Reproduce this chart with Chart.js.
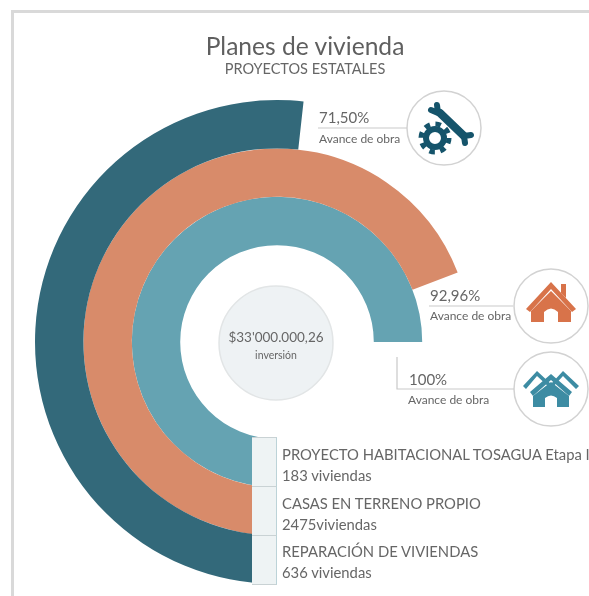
<!DOCTYPE html>
<html lang="es"><head><meta charset="utf-8">
<script src="https://cdn.jsdelivr.net/npm/chart.js@4"></script>
<style>
html,body{margin:0;padding:0;background:#fff;overflow:hidden}
#page{position:relative;width:589px;height:596px;overflow:hidden;filter:blur(.7px);font-family:Lato,"Open Sans",sans-serif;color:#666}
#frame{position:absolute;left:11px;top:10px;width:700px;height:700px;border:3px solid #d9d9d9;box-sizing:border-box}
#c{position:absolute;left:0;top:0;display:block}
.t{position:absolute;white-space:nowrap;line-height:1}
.c{transform:translateX(-50%)}
.box{position:absolute;left:252px;width:25px;height:49px;background:#eef3f4;border-top:1px solid #c9d2d4;border-right:1px solid #bcd3d8;box-sizing:border-box}
svg{position:absolute;left:0;top:0}
</style></head><body>
<div id="page">
<div id="frame"></div>
<canvas id="c" width="589" height="596"></canvas>
<svg width="589" height="596" viewBox="0 0 589 596">
 <circle cx="276" cy="343" r="57" fill="#eef2f4" stroke="#e2e5e6" stroke-width="1.5"/>
 <g fill="none" stroke="#c9c9c9" stroke-width="1.2">
  <path d="M318 128H407"/><path d="M429 306H513"/><path d="M397 357V389H515"/>
 </g>
 <g fill="#fff" stroke="#d2d2d2" stroke-width="1.5">
  <circle cx="444" cy="128" r="37"/><circle cx="551" cy="306" r="37"/><circle cx="551" cy="389" r="37"/>
 </g>
 <!-- tools icon -->
 <g stroke="#15546b" fill="none" stroke-linecap="round">
  <path d="M440 113L464 136" stroke-width="8"/>
  <path d="M438 113l-7-3M438 113l-1-8" stroke-width="6"/>
  <path d="M464 136l7-1M464 136l1 7" stroke-width="6"/>
  <circle cx="435" cy="138" r="9" stroke-width="6"/>
  <circle cx="435" cy="138" r="14" stroke-width="5" stroke-dasharray="5.5 5.5" stroke-linecap="butt"/>
 </g>
 <!-- orange house -->
 <g fill="#d8734a">
  <path d="M526 309L551 282L576 309L572 312L551 289L530 312Z"/>
  <path d="M561 284h5v14l-5-5Z"/>
  <path d="M531 311L551 291L571 311V322H558V312Q551 305 544 312V322H531Z"/>
 </g>
 <!-- teal houses -->
 <g fill="#3d8ca3">
  <path d="M523 386L537 371L551 384L563 371L579 386L576 389L563 376L551 389L537 376L526 389Z"/>
  <path d="M530 392L551 374L572 392L569 396L551 380L533 396Z"/>
  <path d="M533 396L551 382L569 396V407H557V398Q551 393 545 398V407H533Z"/>
 </g>
</svg>
<div class="box" style="top:437px"></div>
<div class="box" style="top:486px"></div>
<div class="box" style="top:535px;height:50px;border-bottom:1px solid #c9d2d4"></div>
<div id="labels"></div>
</div>
<script>
const ringNames = ["REPARACIÓN DE VIVIENDAS", "CASAS EN TERRENO PROPIO", "PROYECTO HABITACIONAL TOSAGUA Etapa I"];
const ringUnits = ["636 viviendas", "2475viviendas", "183 viviendas"];
const ringShare = [69, 92.2, 100];
const ringColors = ["#33697a", "#d88b6a", "#65a3b2"];
const progressLabels = ["71,50%", "92,96%", "100%"];
const caption = "Avance de obra";
const titleText = "Planes de vivienda";
const subtitleText = "PROYECTOS ESTATALES";
const centerValue = "$33'000.000,26";
const centerLabel = "inversión";

new Chart(document.getElementById('c'), {
  type: 'doughnut',
  data: {
    labels: ['avance', 'resto'],
    datasets: ringShare.map((v, i) => ({
      label: ringNames[i],
      data: [v, 100 - v],
      backgroundColor: [ringColors[i], 'rgba(0,0,0,0)'],
      borderWidth: 0
    }))
  },
  options: {
    responsive: false,
    animation: false,
    rotation: 180,
    circumference: 270,
    cutout: '40%',
    layout: {padding: {left: 35, right: 70, top: 100, bottom: 12}},
    plugins: {legend: {display: false}, tooltip: {enabled: false}}
  }
});

const spots = [
  [titleText, 305, 34, 24.6, '#5f5f5f', true],
  [subtitleText, 305, 62, 14.5, '#666', true],
  [progressLabels[0], 319, 110, 15, '#666'],
  [caption, 319, 133, 12, '#666'],
  [progressLabels[1], 430, 288, 15, '#666'],
  [caption, 430, 310, 12, '#666'],
  [progressLabels[2], 409, 372, 15, '#666'],
  [caption, 408, 394, 12, '#666'],
  [centerValue, 276, 331, 13.5, '#666', true],
  [centerLabel, 276, 350, 10.5, '#666', true],
  [ringNames[2], 282, 447, 14.8, '#666'],
  [ringUnits[2], 282, 468, 14.8, '#666'],
  [ringNames[1], 282, 496, 14.8, '#666'],
  [ringUnits[1], 282, 517, 14.8, '#666'],
  [ringNames[0], 282, 544, 14.8, '#666'],
  [ringUnits[0], 282, 565, 14.8, '#666']
];
const host = document.getElementById('labels');
spots.forEach(([txt, x, y, size, col, center]) => {
  const d = document.createElement('div');
  d.className = 't' + (center ? ' c' : '');
  d.style.cssText = `left:${x}px;top:${y}px;font-size:${size}px;color:${col}`;
  d.textContent = txt;
  host.appendChild(d);
});
</script>
</body></html>
